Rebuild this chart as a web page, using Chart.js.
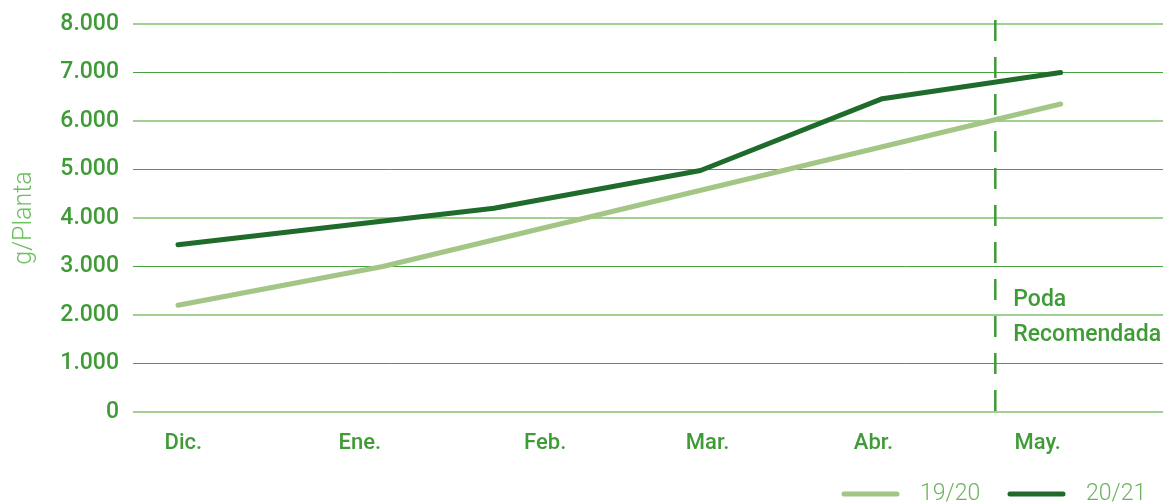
<!DOCTYPE html>
<html>
<head>
<meta charset="utf-8">
<script src="https://cdn.jsdelivr.net/npm/chart.js@4"></script>
<style>
  html, body { margin: 0; padding: 0; background: #fff; }
  #wrap { width: 1171px; height: 504px; }
</style>
</head>
<body>
<div id="wrap"><canvas id="myChart"></canvas></div>
<script>
const months = ['Dic.', 'Ene.', 'Feb.', 'Mar.', 'Abr.', 'May.'];
const monthPos = [0.03, 1.03, 2.08, 3.0, 3.94, 4.87];

// posición en meses (0 = Dic.) y g/Planta
const x1920 = [0, 1.16, 5];
const y1920 = [2200, 3000, 6350];
const x2021 = [0, 1.79, 2.96, 3.99, 5];
const y2021 = [3450, 4200, 4980, 6460, 7000];

const podaX = 4.63;
const podaLabel = ['Poda', 'Recomendada'];

const verde = '#3e9b36';
const claro = '#a3c585';
const oscuro = '#1f6b2c';

const pts = (xs, ys) => xs.map((x, i) => ({ x: x, y: ys[i] }));

const podaPlugin = {
    id: 'poda',
    afterDatasetsDraw(chart) {
        const ctx = chart.ctx;
        const area = chart.chartArea;
        const x = chart.scales.x.getPixelForValue(podaX);
        ctx.save();
        ctx.strokeStyle = verde;
        ctx.lineWidth = 2.5;
        ctx.setLineDash([21, 16]);
        ctx.beginPath();
        ctx.moveTo(x, area.top - 4);
        ctx.lineTo(x, area.bottom);
        ctx.stroke();
        ctx.setLineDash([]);
        ctx.fillStyle = verde;
        ctx.font = '500 23px Roboto';
        ctx.textBaseline = 'middle';
        const y = chart.scales.y.getPixelForValue(2300);
        podaLabel.forEach((t, i) => ctx.fillText(t, x + 18, y + i * 35));
        ctx.restore();
    }
};

const legendPlugin = {
    id: 'leyenda',
    afterDraw(chart) {
        const ctx = chart.ctx;
        ctx.save();
        ctx.font = '300 23px Roboto';
        ctx.textBaseline = 'middle';
        let x = chart.width - 329;
        const y = 494;
        chart.data.datasets.forEach(ds => {
            ctx.strokeStyle = ds.borderColor;
            ctx.lineWidth = 5;
            ctx.lineCap = 'round';
            ctx.beginPath();
            ctx.moveTo(x + 2, y);
            ctx.lineTo(x + 55, y);
            ctx.stroke();
            ctx.fillStyle = '#6db35c';
            ctx.fillText(ds.label, x + 78, y);
            x += 166;
        });
        ctx.restore();
    }
};

const data = {
    datasets: [{
        label: '19/20',
        borderColor: claro,
        backgroundColor: claro,
        data: pts(x1920, y1920),
    },
    {
        label: '20/21',
        borderColor: oscuro,
        backgroundColor: oscuro,
        data: pts(x2021, y2021),
    }]
};

const config = {
    type: 'line',
    data: data,
    options: {
        responsive: true,
        maintainAspectRatio: false,
        animation: false,
        layout: { padding: { top: 24, right: 8, bottom: 0, left: 0 } },
        elements: {
            line: { borderWidth: 5, tension: 0, borderCapStyle: 'round', borderJoinStyle: 'round' },
            point: { radius: 0 }
        },
        plugins: {
            legend: { display: false },
            tooltip: { enabled: false }
        },
        scales: {
            x: {
                type: 'linear',
                min: -0.255,
                max: 5.58,
                grid: { display: false },
                border: { display: false },
                afterBuildTicks: s => { s.ticks = monthPos.map(p => ({ value: p })); },
                afterFit: s => { s.height = 92; },
                ticks: {
                    color: verde,
                    padding: 10,
                    maxRotation: 0,
                    autoSkip: false,
                    font: { family: 'Roboto', size: 22, weight: '500' },
                    callback: (v, i) => months[i]
                }
            },
            y: {
                min: 0,
                max: 8000,
                border: { display: false },
                afterFit: s => { s.width = 133; },
                grid: {
                    drawTicks: false,
                    color: c => (c.tick.value / 1000) % 2 === 0 ? '#a0d092' : '#48a03e',
                    lineWidth: c => (c.tick.value / 1000) % 2 === 0 ? 2 : 1
                },
                title: {
                    display: true,
                    text: 'g/Planta',
                    color: '#6cbf5e',
                    padding: { top: 10, bottom: 0 },
                    font: { family: 'Roboto', size: 25, weight: '300' }
                },
                ticks: {
                    stepSize: 1000,
                    color: verde,
                    padding: 14,
                    font: { family: 'Roboto', size: 23, weight: '500', lineHeight: 0.85 },
                    callback: v => String(v).replace(/\B(?=(\d{3})+(?!\d))/g, '.')
                }
            }
        }
    },
    plugins: [podaPlugin, legendPlugin]
};

const myChart = new Chart(
    document.getElementById('myChart'),
    config
);
</script>
</body>
</html>
